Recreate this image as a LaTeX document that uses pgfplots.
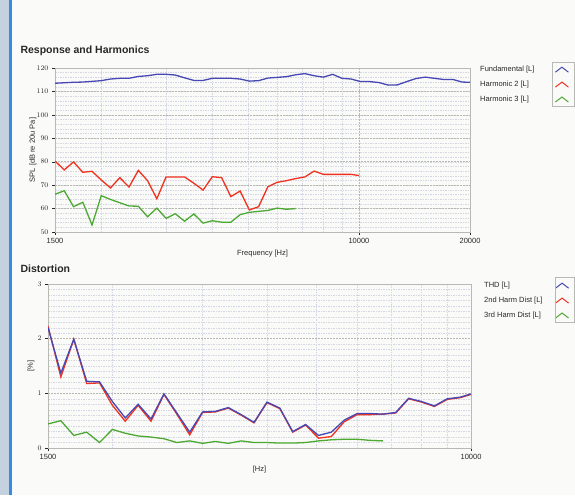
\documentclass[border=0pt]{standalone}
\usepackage{pgfplots}
\pgfplotsset{compat=1.18}
\usepackage{fontspec}
\setmainfont{Liberation Sans}
\definecolor{bgc}{RGB}{250,250,248}
\definecolor{stripc}{RGB}{196,210,224}
\definecolor{edgec}{RGB}{52,140,226}
\definecolor{fundc}{RGB}{72,72,180}
\definecolor{h2c}{RGB}{240,50,30}
\definecolor{h3c}{RGB}{76,170,50}
\definecolor{minorg}{RGB}{212,214,226}
\definecolor{majorg}{RGB}{185,185,180}
\definecolor{olivec}{RGB}{196,194,90}
\definecolor{textc}{RGB}{40,40,40}

\pgfplotstableread{
f      fund
1500   113.5
1589   113.7
1684   113.9
1784   114.0
1890   114.3
2002   114.6
2121   115.3
2247   115.6
2381   115.6
2523   116.4
2673   116.7
2832   117.3
3000   117.3
3178   117.0
3367   115.8
3568   114.7
3780   114.7
4004   115.6
4243   115.6
4495   115.6
4762   115.3
5045   114.4
5345   114.6
5663   115.7
6000   116.0
6357   116.3
6735   117.1
7135   117.6
7560   116.7
8009   116.1
8485   117.3
8990   115.6
9524   115.3
10091  114.2
10691  114.2
11326  113.8
12000  112.7
12714  112.8
13470  114.2
14270  115.5
15119  116.1
16018  115.6
16971  115.1
17980  115.1
19049  114.0
20000  113.9
}\fundtab

\pgfplotstableread{
f      h2
1500   80.3
1589   76.5
1684   79.9
1784   75.5
1890   75.9
2002   72.2
2121   68.8
2247   73.2
2381   69.2
2523   76.3
2673   71.9
2832   64.2
3000   73.5
3178   73.5
3367   73.5
3568   70.8
3780   67.9
4004   73.6
4243   73.2
4495   65.1
4762   67.5
5045   59.4
5345   60.8
5663   69.3
6000   71.2
6357   71.9
6735   72.8
7135   73.5
7560   76.0
8009   74.6
8485   74.6
8990   74.6
9524   74.6
10000  74.1
}\hatab

\pgfplotstableread{
f      h3
1500   66.1
1589   67.6
1684   60.8
1784   62.7
1890   53.0
2002   65.5
2121   63.9
2247   62.5
2381   61.1
2523   61.0
2673   56.5
2832   60.2
3000   55.8
3178   57.8
3367   54.6
3568   57.7
3780   53.8
4004   54.8
4243   54.2
4495   54.2
4762   57.4
5045   58.4
5345   58.8
5663   59.2
6000   60.2
6357   59.7
6735   60.0
}\hbtab

\pgfplotstableread{
f      thd   d2
1500   2.20  2.23
1589   1.37  1.30
1684   1.99  1.99
1784   1.22  1.18
1890   1.21  1.19
2002   0.85  0.78
2121   0.55  0.49
2247   0.80  0.78
2381   0.53  0.49
2523   0.99  0.98
2673   0.64  0.62
2832   0.29  0.24
3000   0.66  0.65
3178   0.67  0.66
3367   0.74  0.73
3568   0.61  0.60
3780   0.47  0.46
4004   0.84  0.83
4243   0.73  0.72
4495   0.30  0.29
4762   0.43  0.42
5045   0.23  0.18
5345   0.29  0.21
5663   0.51  0.48
6000   0.63  0.61
6357   0.63  0.61
6735   0.62  0.62
7135   0.65  0.64
7560   0.91  0.90
8009   0.85  0.84
8485   0.77  0.76
8990   0.90  0.89
9524   0.93  0.92
10000  0.99  0.98
}\distab

\pgfplotstableread{
f      d3
1500   0.44
1589   0.50
1684   0.23
1784   0.29
1890   0.10
2002   0.34
2121   0.27
2247   0.22
2381   0.20
2523   0.17
2673   0.10
2832   0.13
3000   0.085
3178   0.12
3367   0.085
3568   0.13
3780   0.10
4004   0.10
4243   0.09
4495   0.09
4762   0.10
5045   0.13
5345   0.15
5663   0.16
6000   0.16
6357   0.14
6735   0.13
}\dthtab

\pgfplotsset{
  every axis/.append style={
    scale only axis,
    axis line style={draw=majorg, line width=0.4pt},
    tick align=outside,
    major tick length=3pt,
    minor tick length=0pt,
    tick style={color=textc, line width=0.4pt},
    ticklabel style={font=\fontsize{7.5}{9}\selectfont, text=textc},
    label style={font=\fontsize{7.5}{9}\selectfont, text=textc},
    xtick pos=bottom, ytick pos=left,
    grid=both,
    minor grid style={draw=minorg, dash pattern=on 1.5pt off 1pt, line width=0.4pt},
    major grid style={draw=majorg, dash pattern=on 2pt off 1pt, line width=0.45pt},
    legend cell align=left,
    legend plot pos=right,
  },
}

\begin{document}
\begin{tikzpicture}
\path[use as bounding box] (0pt,0pt) rectangle (575pt,-495pt);
\fill[bgc] (0pt,0pt) rectangle (575pt,-495pt);
\fill[stripc] (0pt,0pt) rectangle (9pt,-495pt);
\fill[edgec] (9pt,0pt) rectangle (12pt,-495pt);

\node[anchor=base west, font=\bfseries\fontsize{10.5}{12}\selectfont, text=textc] at (17pt,-54pt) {Response and Harmonics};
\node[anchor=base west, font=\bfseries\fontsize{10.5}{12}\selectfont, text=textc] at (17pt,-272pt) {Distortion};

\begin{axis}[
  xmode=log,
  log ticks with fixed point,
  at={(55pt,-232pt)}, anchor=south west,
  width=415pt, height=164pt,
  xmin=1500, xmax=20000, ymin=50, ymax=120,
  xtick={1500,10000,20000}, xticklabels={1500,10000,20000},
  minor xtick={2000,3000,4000,5000,6000,7000,8000,9000},
  ytick={50,60,...,120},
  minor ytick={52,54,...,118},
  extra y ticks={60,110}, extra y tick labels={},
  extra y tick style={grid style={draw=olivec, solid, line width=0.6pt}, major tick length=0pt},
  extra x ticks={10000}, extra x tick labels={},
  extra x tick style={grid style={draw=olivec, solid, line width=0.6pt}, major tick length=0pt},
  xlabel={Frequency [Hz]},
  xlabel style={at={(0.5,0)}, anchor=north, yshift=-15pt},
  ylabel={SPL [dB re 20u Pa]},
  ylabel style={at={(0,0.5)}, anchor=south, yshift=15pt},
  legend image code/.code={\path[draw=none,fill=none] (0pt,-2.5pt) rectangle (32pt,2.5pt); \draw[#1, line width=1pt] (19pt,-2.5pt) -- (25.5pt,2.5pt) -- (32pt,-2.5pt);},
  legend style={draw=none, fill=none, font=\fontsize{7.5}{9}\selectfont, text=textc,
      at={(1,1)}, anchor=north west, row sep=4pt, inner sep=0pt,
      xshift=8pt, yshift=4pt},
]
\addplot[fundc, line width=1.3pt] table[x=f, y=fund] {\fundtab};
\addlegendentry{Fundamental [L]}
\addplot[h2c, line width=1.3pt] table[x=f, y=h2] {\hatab};
\addlegendentry{Harmonic 2 [L]}
\addplot[h3c, line width=1.3pt] table[x=f, y=h3] {\hbtab};
\addlegendentry{Harmonic 3 [L]}
\end{axis}

\begin{axis}[
  xmode=log,
  log ticks with fixed point,
  at={(48pt,-448pt)}, anchor=south west,
  width=423pt, height=164pt,
  xmin=1500, xmax=10000, ymin=0, ymax=3,
  xtick={1500,10000}, xticklabels={1500,10000},
  minor xtick={2000,3000,4000,5000,6000,7000,8000,9000},
  ytick={0,1,2,3},
  minor y tick num=9,
  extra y ticks={1,2}, extra y tick labels={},
  extra y tick style={grid style={draw=olivec, solid, line width=0.6pt}, major tick length=0pt},
  xlabel={[Hz]},
  xlabel style={at={(0.5,0)}, anchor=north, yshift=-15pt},
  ylabel={[\%]},
  ylabel style={at={(0,0.5)}, anchor=south, yshift=10pt},
  legend image code/.code={\path[draw=none,fill=none] (0pt,-2.5pt) rectangle (24pt,2.5pt); \draw[#1, line width=1pt] (11pt,-2.5pt) -- (17.5pt,2.5pt) -- (24pt,-2.5pt);},
  legend style={draw=none, fill=none, font=\fontsize{7.5}{9}\selectfont, text=textc,
      at={(1,1)}, anchor=north west, row sep=4pt, inner sep=0pt,
      xshift=11pt, yshift=4pt},
]
\addplot[h2c, line width=1.3pt, forget plot] table[x=f, y=d2] {\distab};
\addplot[fundc, line width=1.3pt] table[x=f, y=thd] {\distab};
\addlegendentry{THD [L]}
\addlegendimage{h2c, line width=1.3pt}
\addlegendentry{2nd Harm Dist [L]}
\addplot[h3c, line width=1.3pt] table[x=f, y=d3] {\dthtab};
\addlegendentry{3rd Harm Dist [L]}
\end{axis}

\draw[majorg, line width=0.5pt] (552pt,-62pt) rectangle (574pt,-106pt);
\draw[majorg, line width=0.5pt] (555pt,-277pt) rectangle (574pt,-322pt);
\end{tikzpicture}
\end{document}
